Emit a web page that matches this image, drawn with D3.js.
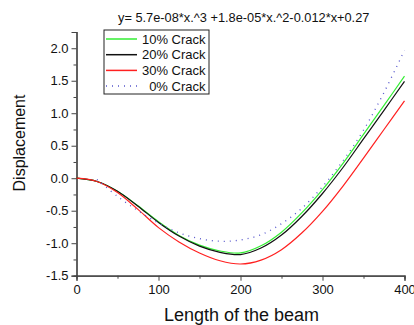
<!DOCTYPE html>
<html>
<head>
<meta charset="utf-8">
<script src="https://d3js.org/d3.v7.min.js"></script>
<style>
  body { margin: 0; background: white; }
  svg { display: block; font-family: "Liberation Sans", Arial, sans-serif; }
</style>
</head>
<body>
<svg id="chart" width="414" height="325"></svg>
<script>
// values
const xs = [0, 25, 50, 75, 100, 125, 150, 175, 200, 225, 250, 275, 300, 325, 350, 375, 400];
const crack10 = [0, -0.05, -0.20, -0.425, -0.67, -0.88, -1.03, -1.12, -1.15, -1.04, -0.83, -0.53, -0.175, 0.23, 0.675, 1.12, 1.57];
const crack20 = [0, -0.05, -0.20, -0.43, -0.68, -0.89, -1.045, -1.14, -1.175, -1.075, -0.875, -0.585, -0.235, 0.165, 0.605, 1.045, 1.49];
const crack30 = [0, -0.05, -0.22, -0.48, -0.76, -0.98, -1.15, -1.27, -1.32, -1.26, -1.10, -0.84, -0.51, -0.12, 0.31, 0.75, 1.19];
const xs0 = [25, 50, 75, 100, 125, 150, 175, 200, 225, 250, 275, 300, 325, 350, 375, 400];
const crack0 = [-0.02, -0.28, -0.50, -0.69, -0.84, -0.93, -0.97, -0.95, -0.87, -0.70, -0.46, -0.13, 0.27, 0.74, 1.32, 1.97];

const xTicks = [0, 100, 200, 300, 400];
const yTicks = [-1.5, -1.0, -0.5, 0.0, 0.5, 1.0, 1.5, 2.0];
const series = [
  { name: "10% Crack", xs: xs, ys: crack10, color: "#33ee33", dash: null },
  { name: "20% Crack", xs: xs, ys: crack20, color: "#111111", dash: null },
  { name: "30% Crack", xs: xs, ys: crack30, color: "#ff2020", dash: null },
  { name: "0% Crack", xs: xs0, ys: crack0, color: "#5555cc", dash: "1,5" }
];
const titleText = "y= 5.7e-08*x.^3 +1.8e-05*x.^2-0.012*x+0.27";

const svg = d3.select("#chart");
const x = d3.scaleLinear().domain([0, 400]).range([76.5, 404.5]);
const y = d3.scaleLinear().domain([-1.5, 2.25]).range([275.7, 32]);
const axisColor = "#444";

// x axis
const gx = svg.append("g").attr("transform", `translate(0,${y(-1.5)})`)
  .call(d3.axisBottom(x).tickValues(xTicks).tickSize(5).tickPadding(4).tickFormat(d3.format("d")));
gx.append("g").call(d3.axisBottom(x).tickValues([50, 150, 250, 350]).tickSize(3).tickFormat(""));

// y axis
const yFmt = d => d3.format(".1f")(d).replace("\u2212", "-");
const gy = svg.append("g").attr("transform", `translate(${x(0)},0)`)
  .call(d3.axisLeft(y).tickValues(yTicks).tickSize(5).tickPadding(3).tickFormat(yFmt));
gy.append("g").call(d3.axisLeft(y).tickValues([-1.25, -0.75, -0.25, 0.25, 0.75, 1.25, 1.75, 2.25]).tickSize(3).tickFormat(""));

svg.selectAll(".domain").attr("stroke", axisColor).attr("stroke-width", 1.2);
svg.selectAll(".tick line").attr("stroke", axisColor);
svg.selectAll(".tick text").attr("font-size", 13).attr("fill", "#111")
  .attr("font-family", "Liberation Sans, Arial, sans-serif");

// curves
const line = d3.line().curve(d3.curveCatmullRom.alpha(0.5));
series.forEach(s => {
  svg.append("path")
    .attr("d", line(s.xs.map((v, i) => [x(v), y(s.ys[i])])))
    .attr("fill", "none")
    .attr("stroke", s.color)
    .attr("stroke-width", s.dash ? 1.3 : 1.2)
    .attr("stroke-dasharray", s.dash);
});

// axis titles
svg.append("text").attr("x", 241.5).attr("y", 321).attr("text-anchor", "middle")
  .attr("font-size", 18).attr("fill", "#111").text("Length of the beam");
svg.append("text").attr("transform", "translate(25,143) rotate(-90)").attr("text-anchor", "middle")
  .attr("font-size", 16).attr("fill", "#111").text("Displacement");

// formula on top
svg.append("text").attr("x", 118).attr("y", 22).attr("font-size", 12.8).attr("fill", "#111").text(titleText);

// legend
const lg = svg.append("g");
lg.append("rect").attr("x", 104).attr("y", 30).attr("width", 105).attr("height", 64)
  .attr("fill", "white").attr("stroke", "#222").attr("stroke-width", 1);
series.forEach((s, i) => {
  const cy = 39 + i * 15.7;
  lg.append("line").attr("x1", 106).attr("x2", 137).attr("y1", cy).attr("y2", cy)
    .attr("stroke", s.color).attr("stroke-width", 1.5).attr("stroke-dasharray", s.dash ? "1,5" : null);
  lg.append("text").attr("x", 205.5).attr("y", cy + 4.5).attr("text-anchor", "end")
    .attr("font-size", 13).attr("fill", "#111").text(s.name);
});
</script>
</body>
</html>
